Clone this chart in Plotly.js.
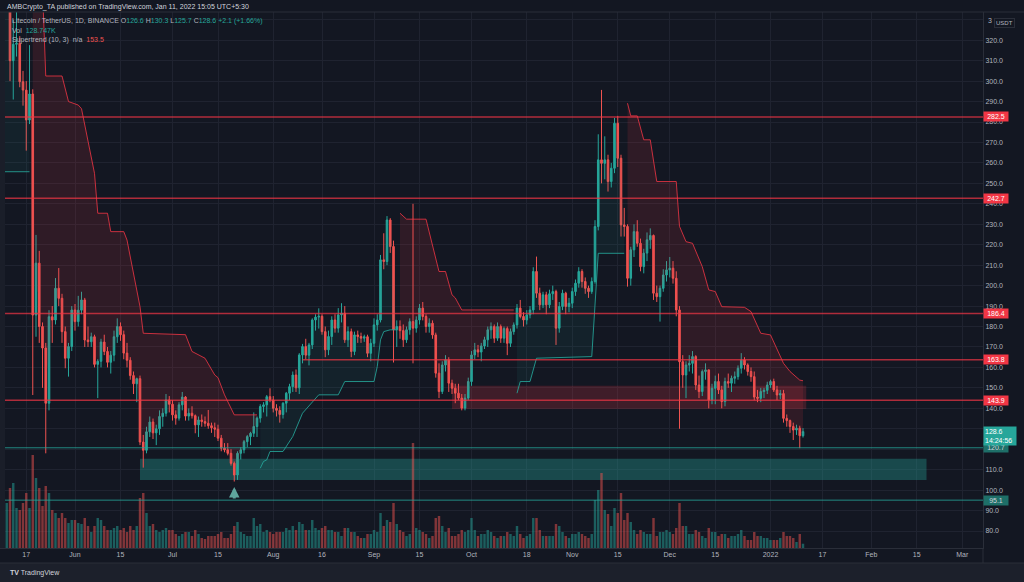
<!DOCTYPE html>
<html><head><meta charset="utf-8">
<script src="https://cdn.plot.ly/plotly-3.0.1.min.js"></script>
<style>html,body{margin:0;padding:0;background:#131722;}#chart{width:1024px;height:582px;}</style>
</head><body><div id="chart"></div>
<script>
// Daily LTC/USDT candles, first candle date:
const startDate = '2021-05-10';

const opens = [
 385,352,372,310,318,318.5,299.7,295.6,281,293.7,185.6,211,180,169.5,142.5,184.8,183.2,198.7,193.8,177.5,164.5,170.2,
 188.1,182.4,188,193,173.4,172.6,175,161.5,163,172.4,167.8,162.5,166,175,180,176,167,163.5,156,152,154.5,123.5,119.5,128.5,133.3,128,130,136,137.6,144.1,
 142,136.8,135.2,141.7,145.5,136.2,137.6,136.4,131.9,134.3,133.5,132.7,131.5,130.5,129.8,125.4,120.5,119.7,118,113.1,107.4,118,119.7,123.7,126.2,127.8,131.1,135.2,140.9,141.7,145.7,
 144.1,140,139,137,142.5,147.4,150.6,156.3,150,166.1,170.2,166,171,183.2,184.6,185,177.5,168.6,175.1,183.2,179.2,185.7,186.5,173.5,177.5,167.8,175.9,175.1,174.3,175,166.9,
 171.8,180.8,183.2,212.6,211.8,232.1,219.1,178.4,180,178,173.5,178.4,182.4,179.2,183.2,189,184.9,180,181.6,175.9,157.2,148.2,161.2,163.7,152.3,149.8,147.4,145,140.1,145,
 153.1,166.1,168.6,167.5,170.5,173.5,178.4,180,174.3,180,174.3,179,171.8,177.5,180.8,189,184.9,183.2,185.7,188.1,206.9,196.3,190.6,195.5,190.6,196,197.1,179.2,189.8,196.3,189.8,
 191.4,197.1,201.2,206.9,202,198.7,197.1,202,228.9,261.5,259.8,261.5,250.9,257.4,279.4,262.3,229.7,228.9,203.6,217.5,226.4,220.7,209.3,215.9,222.4,224.5,196.3,194.6,198.7,205.2,
 207.7,208.5,203.6,188.1,162.8,156.3,161.2,162,165.3,151.4,148.2,158,158.8,144.1,149.8,153.1,149,143.3,153.1,152.3,154.7,155.5,159.6,163.6,161.2,158,155.5,145.5,144.9,148.2,148.8,
 151.4,153.1,149,146.5,147.2,135.1,134,131.1,129.4,130.3,126.6
];
const highs = [
 412,380,378,330,338,322,305,300,317.6,296,224.8,217,182,172,188,190,203.7,208.6,196,180,172,190,
 191,195,197,194,180,177,176,164,174,176,170,168,178,184,182,178,172,165,158,155,156,127,131,136,135,132,139,140,147,146,
 144,139,143,148,146,140,141,137,136,137,136,139.2,133,133,132,127,123,123,120,114,119,121,124.5,127,128.5,138,136,142,143,146.5,149.8,
 146,142,141,143,148,152,158,159,167,171.5,174,172,184,186,188.9,186,180,178,185,186,189,191.4,190,180,179,177.5,178,177,176,176,174,
 184,186,215,225.6,234,233,222,183,183,181,180,184,240,185,191,192,186,184,183,177,162,163,166,165,154,152,152,147,147,155,
 168,172,171,172,175,180,182,181,182,181,180,180,179,182,191,193,187,188,190,209,214.2,199,197,197,198,200,198,192,198,197,194,
 199,203,209,208,204,200,204,232,274,295.7,273,264,260,282,283,264,238,230,219,230,232,223,218,226,228,225,200,200,208,212,
 214,212,207,190,166,163,166,168,166,156,159,162,159,152,156,157,151,155,157,156,158,161,167,165,162,160,158,149,150,150,153,
 154,154.5,151,149,149,137,134.5,133,132,131.5,130.3
];
const lows = [
 345,340,300,291,312,297,288,266,279,146.5,175,172,150,118,139,172,181,190,172,159.6,155.5,168,
 178,180,186,170,170,170,160,145,160,166,160,157,163,172,173,164,160,154,147,143,122,111,118,126,125,122,127,131,136,138,
 134,132,134,139,134,134,135,127.8,126,131,131,130,128,126,124,119,118.5,117,112,104.2,105,115,118,121,122,126,126,133,138,136,143,
 138,136,133,135,138,144,148,148,147,162,164,161,169,178,179,176,165,166,171,177,177,182,172,170,165,166,172,172,172.5,165,163,
 170,178,182,208,210,216,162.4,170,174,170,172,176,162,177,181,183,177,177,174,155,145,147,158,148,147,142.5,144,139,139,144,
 151,164,165,163,169,170,174,172,173,172,172,166,170,176,179,184,180,181,184,186,194,188,189,186,189,193,171,177,188,186,187,
 189,195,199,199,196,194,196,201,227,250,252,246,248,255,258,224,224,199.5,200,214,219,207,206,212,218,193,192,182.4,197,202,
 204,201,185,130,150,145,158,157,149,145,146,154,140,142,142,147,140,141,150,148,152,154,157,159,156,153,144,143,143,145,147,
 150,148,144,144.5,133,131,128,124.5,127,120.5,125.7
];
const closes = [
 352,372,310,318,318.5,299.7,295.6,281,293.7,185.6,211,180,169.5,142.5,184.8,183.2,198.7,193.8,177.5,164.5,170.2,188.1,
 182.4,188,193,173.4,172.6,175,161.5,163,172.4,167.8,162.5,166,175,180,176,167,163.5,156,152,154.5,123.5,119.5,128.5,133.3,128,130,136,137.6,144.1,142,
 136.8,135.2,141.7,145.5,136.2,137.6,136.4,131.9,134.3,133.5,132.7,131.5,130.5,129.8,125.4,120.5,119.7,118,113.1,107.4,118,119.7,123.7,126.2,127.8,131.1,135.2,140.9,141.7,145.7,144.1,
 140,139,137,142.5,147.4,150.6,156.3,150,166.1,170.2,166,171,183.2,184.6,185,177.5,168.6,175.1,183.2,179.2,185.7,186.5,173.5,177.5,167.8,175.9,175.1,174.3,175,166.9,171.8,
 180.8,183.2,212.6,211.8,232.1,219.1,178.4,180,178,173.5,178.4,182.4,179.2,183.2,189,184.9,180,181.6,175.9,157.2,148.2,161.2,163.7,152.3,149.8,147.4,145,140.1,145,153.1,
 166.1,168.6,167.5,170.5,173.5,178.4,180,174.3,180,174.3,179,171.8,177.5,180.8,189,184.9,183.2,185.7,188.1,206.9,196.3,190.6,195.5,190.6,196,197.1,179.2,189.8,196.3,189.8,191.4,
 197.1,201.2,206.9,202,198.7,197.1,202,228.9,261.5,259.8,261.5,250.9,257.4,279.4,262.3,229.7,228.9,203.6,217.5,226.4,220.7,209.3,215.9,222.4,224.5,196.3,194.6,198.7,205.2,207.7,
 208.5,203.6,188.1,162.8,156.3,161.2,162,165.3,151.4,148.2,158,158.8,144.1,149.8,153.1,149,143.3,153.1,152.3,154.7,155.5,159.6,163.6,161.2,158,155.5,145.5,144.9,148.2,148.8,151.4,
 153.1,149,146.5,147.2,135.1,134,131.1,129.4,130.3,126.6,128.6
];
// Volume in thousands of LTC
const volumes = [
 1650,1350,1800,1950,1200,1140,1350,1650,1200,2790,2100,1800,1260,1860,1650,1140,1050,900,1050,900,750,840,
 840,750,720,900,660,480,660,900,840,660,540,540,600,660,540,600,480,660,540,660,1500,1650,1050,660,720,540,480,540,600,540,
 540,420,360,420,480,480,360,540,420,300,270,360,360,360,420,480,300,300,420,660,780,480,420,360,360,900,660,720,480,540,480,
 420,480,480,480,600,540,660,540,780,720,540,540,840,600,540,600,660,540,540,480,480,360,600,600,480,480,360,300,300,420,420,
 540,480,1050,660,840,780,1350,720,540,480,360,420,3150,600,540,480,420,300,360,900,960,660,480,600,360,360,420,540,480,540,
 900,540,360,420,420,540,480,360,300,360,360,480,420,360,660,420,300,360,420,900,900,540,360,360,360,360,720,660,480,360,300,
 420,420,480,420,360,300,420,1440,1740,2250,1140,1020,660,1200,1050,1650,840,1050,780,540,420,540,480,420,420,900,360,480,480,540,
 480,420,600,1350,660,660,420,420,540,480,360,300,600,480,480,360,420,420,300,360,360,420,540,360,240,240,480,360,360,300,300,
 240,240,240,300,480,360,360,300,180,420,128.747
];

// Supertrend (10, 3) line, read as vertices per trend segment
const stUp0Dates = ['2021-05-10','2021-05-18'];
const stUp0Vals  = [255.7, 255.7];
const stDn1Dates = ['2021-05-19','2021-05-22','2021-05-23','2021-05-28','2021-05-30','2021-06-02','2021-06-03','2021-06-07','2021-06-08','2021-06-11','2021-06-12','2021-06-16','2021-06-17','2021-06-21','2021-06-22','2021-07-05','2021-07-07','2021-07-11','2021-07-14','2021-07-15','2021-07-17','2021-07-20','2021-07-27'];
const stDn1Vals  = [360, 345, 302.5, 302.5, 290, 288.3, 286.5, 254.9, 235.4, 235.4, 226.4, 226.4, 222.3, 189.7, 176.7, 176, 167.8, 164.5, 156.3, 155, 146.6, 136.8, 136.8];
const stUp1Dates = ['2021-07-28','2021-07-29','2021-07-30','2021-07-31','2021-08-04','2021-08-07','2021-08-10','2021-08-13','2021-08-15','2021-08-21','2021-08-23','2021-09-01','2021-09-02','2021-09-03','2021-09-04','2021-09-06','2021-09-08'];
const stUp1Vals  = [110.7, 114, 114.8, 118.9, 118.9, 126.2, 137.6, 143.3, 146.6, 146.6, 153.1, 153.1, 160.4, 173.5, 177.5, 178.4, 178.4];
const stDn2Dates = ['2021-09-09','2021-09-11','2021-09-17','2021-09-21','2021-09-23','2021-09-25','2021-09-26','2021-09-28','2021-10-14'];
const stDn2Vals  = [235.4, 232.5, 232.5, 206.9, 206.9, 195.5, 194, 188.1, 188.1];
const stUp2Dates = ['2021-10-15','2021-10-16','2021-10-19','2021-10-21','2021-11-07','2021-11-08','2021-11-09','2021-11-17'];
const stUp2Vals  = [147.4, 153.1, 153.1, 164.5, 165.3, 190, 215.8, 215.8];
const stDn3Dates = ['2021-11-18','2021-11-19','2021-11-21','2021-11-23','2021-11-25','2021-11-27','2021-12-03','2021-12-04','2021-12-06','2021-12-08','2021-12-11','2021-12-13','2021-12-15','2021-12-17','2021-12-24','2021-12-26','2021-12-29','2022-01-01','2022-01-05','2022-01-07','2022-01-10','2022-01-11'];
const stDn3Vals  = [289.2, 283, 283, 271.3, 271.3, 250.9, 250.9, 229, 221.5, 220.7, 209.3, 197.9, 197.1, 189.7, 189.4, 187.3, 176.7, 175.9, 162, 158, 153.8, 153.5];

// Horizontal levels and zones
const redLevels = [282.5, 242.7, 186.4, 163.8, 143.9];
const redLevelStart = ['2021-05-01','2021-05-01','2021-05-01','2021-08-10','2021-05-01'];
const tealLevels = [120.7, 95.1];
const redZone = {x0:'2021-09-25', x1:'2022-01-12', y0:139.7, y1:151};
const tealZone = {x0:'2021-06-21', x1:'2022-02-18', y0:105, y1:115.3};

const tickDates = ['2021-05-17','2021-06-01','2021-06-15','2021-07-01','2021-07-15','2021-08-01','2021-08-16','2021-09-01','2021-09-15','2021-10-01','2021-10-18','2021-11-01','2021-11-15','2021-12-01','2021-12-15','2022-01-01','2022-01-17','2022-02-01','2022-02-15','2022-03-01'];
const tickLabels = ['17','Jun','15','Jul','15','Aug','16','Sep','15','Oct','18','Nov','15','Dec','15','2022','17','Feb','15','Mar'];
// price scale ticks (labels under the price tags are hidden, as in the reference)
const priceTicks = [80,90,100,110,120,130,140,150,160,170,180,190,200,210,220,230,240,250,260,270,280,290,300,310,320,330];
const priceLabels = ['80.0','90.0','100.0','110.0','','','140.0','150.0','160.0','170.0','180.0','190.0','200.0','210.0','220.0','230.0','240.0','250.0','260.0','270.0','280.0','290.0','300.0','310.0','320.0',''];

// ---------- build ----------
function dayList(start, n){
  const out=[]; const t0=Date.parse(start+'T00:00:00Z');
  for(let i=0;i<n;i++){ out.push(new Date(t0+i*86400000).toISOString().slice(0,10)); }
  return out;
}
const dates = dayList(startDate, closes.length);
function midBetween(d0,d1){
  const x=[],y=[];
  dates.forEach((d,i)=>{ if(d>=d0 && d<=d1){ x.push(d); y.push((opens[i]+closes[i])/2); } });
  return {x,y};
}
const UP='#26a69a', DN='#ef5350';
const traces=[];
traces.push({
  type:'bar', x:dates, y:volumes, yaxis:'y2', hoverinfo:'skip',
  marker:{color:closes.map((c,i)=>c>=opens[i]?'rgba(38,166,154,0.5)':'rgba(239,83,80,0.5)'), line:{width:0}}
});
const segs=[
  [stUp0Dates,stUp0Vals,true],[stDn1Dates,stDn1Vals,false],[stUp1Dates,stUp1Vals,true],
  [stDn2Dates,stDn2Vals,false],[stUp2Dates,stUp2Vals,true],[stDn3Dates,stDn3Vals,false]
];
segs.forEach(([sd,sv,up])=>{
  const m=midBetween(sd[0], sd[sd.length-1]);
  traces.push({type:'scatter',mode:'lines',x:m.x,y:m.y,line:{width:0,color:'rgba(0,0,0,0)'},hoverinfo:'skip'});
  traces.push({type:'scatter',mode:'lines',x:sd,y:sv,fill:'tonexty',
    fillcolor: up?'rgba(38,166,154,0.08)':'rgba(242,54,69,0.13)',
    line:{width:1,color: up?'rgba(38,166,154,0.85)':'rgba(242,54,69,0.8)'},hoverinfo:'skip'});
});
traces.push({
  type:'candlestick', x:dates, open:opens, high:highs, low:lows, close:closes,
  increasing:{line:{color:UP,width:1},fillcolor:UP},
  decreasing:{line:{color:DN,width:1},fillcolor:DN},
  hoverinfo:'skip'
});

const shapes=[];
shapes.push({type:'rect',xref:'x',yref:'y',x0:tealZone.x0,x1:tealZone.x1,y0:tealZone.y0,y1:tealZone.y1,fillcolor:'rgba(38,166,154,0.35)',line:{width:0},layer:'between'});
shapes.push({type:'rect',xref:'x',yref:'y',x0:redZone.x0,x1:redZone.x1,y0:redZone.y0,y1:redZone.y1,fillcolor:'rgba(242,54,69,0.2)',line:{width:0},layer:'between'});
redLevels.forEach((v,i)=>shapes.push({type:'line',xref:'x',yref:'y',x0:redLevelStart[i],x1:'2022-04-01',y0:v,y1:v,line:{color:'rgba(242,54,69,0.7)',width:1.5},layer:'above'}));
tealLevels.forEach(v=>shapes.push({type:'line',xref:'x',yref:'y',x0:'2021-05-01',x1:'2022-04-01',y0:v,y1:v,line:{color:'rgba(38,166,154,0.8)',width:1},layer:'above'}));
// frame pieces
shapes.push({type:'rect',xref:'paper',yref:'paper',x0:0,x1:5/983,y0:0,y1:1,fillcolor:'#1a1e29',line:{width:0},layer:'above'});
shapes.push({type:'rect',xref:'paper',yref:'paper',x0:0,x1:1024/983,y0:-34/536,y1:-15/536,fillcolor:'#1c202b',line:{width:0},layer:'below'});
shapes.push({type:'line',xref:'paper',yref:'paper',x0:0,x1:1024/983,y0:-15/536,y1:-15/536,line:{color:'#2a2e39',width:1}});
shapes.push({type:'line',xref:'paper',yref:'paper',x0:1,x1:1,y0:0,y1:-15/536,line:{color:'#2a2e39',width:1}});
shapes.push({type:'line',xref:'paper',yref:'paper',x0:0,x1:1024/983,y0:1,y1:1,line:{color:'#2a2e39',width:1}});

const py = ypx => (548-ypx)/536;
const annotations=[];
const TXT='#d1d4dc';
annotations.push({xref:'paper',yref:'paper',x:5/983,y:py(7),xanchor:'left',yanchor:'middle',showarrow:false,
  text:'AMBCrypto_TA published on TradingView.com, Jan 11, 2022 15:05 UTC+5:30',font:{size:7,color:TXT}});
const tv = s=>'<span style="color:#26a69a">'+s+'</span>';
annotations.push({xref:'paper',yref:'paper',x:10/983,y:py(21),xanchor:'left',yanchor:'middle',showarrow:false,font:{size:7,color:'#b2b5be'},
  text:'Litecoin / TetherUS, 1D, BINANCE&nbsp;O'+tv('126.6')+'&nbsp;H'+tv('130.3')+'&nbsp;L'+tv('125.7')+'&nbsp;C'+tv('128.6')+'&nbsp;'+tv('+2.1 (+1.66%)')});
annotations.push({xref:'paper',yref:'paper',x:10/983,y:py(30.5),xanchor:'left',yanchor:'middle',showarrow:false,font:{size:7,color:'#b2b5be'},
  text:'Vol&nbsp;&nbsp;'+tv('128.747K')});
annotations.push({xref:'paper',yref:'paper',x:10/983,y:py(40),xanchor:'left',yanchor:'middle',showarrow:false,font:{size:7,color:'#b2b5be'},
  text:'Supertrend (10, 3)&nbsp;&nbsp;n/a&nbsp;&nbsp;<span style="color:#ef5350">153.5</span>'});
redLevels.forEach(v=>annotations.push({xref:'paper',yref:'y',x:1,y:v,xanchor:'left',yanchor:'middle',showarrow:false,
  text:v.toFixed(1),bgcolor:'#f23645',font:{size:7,color:'#ffffff'},borderpad:1,width:22}));
tealLevels.forEach(v=>annotations.push({xref:'paper',yref:'y',x:1,y:v,xanchor:'left',yanchor:'middle',showarrow:false,
  text:v.toFixed(1),bgcolor:'#1e6f68',font:{size:7,color:'#d1d4dc'},borderpad:1,width:22}));
annotations.push({xref:'paper',yref:'y',x:1,y:closes[closes.length-1],xanchor:'left',yanchor:'top',yshift:6,showarrow:false,
  text:closes[closes.length-1].toFixed(1)+'<br>14:24:56',bgcolor:'#26a69a',font:{size:7,color:'#ffffff'},borderpad:1,width:30,align:'left'});
annotations.push({xref:'paper',yref:'paper',x:1,xshift:3,y:py(21),xanchor:'left',yanchor:'middle',showarrow:false,
  text:'3',font:{size:7,color:'#b2b5be'}});
annotations.push({xref:'paper',yref:'paper',x:1,xshift:11,y:py(23),xanchor:'left',yanchor:'middle',showarrow:false,
  text:'USDT',bgcolor:'#131722',bordercolor:'#2a2e39',borderwidth:1,borderpad:1,font:{size:6,color:'#b2b5be'}});
annotations.push({xref:'x',yref:'y',x:'2021-07-20',y:101.5,ax:0,ay:13,showarrow:true,text:'',
  arrowhead:2,arrowsize:0.7,arrowwidth:3,arrowcolor:'#5ea59d'});
annotations.push({xref:'paper',yref:'paper',x:8/983,y:py(573),xanchor:'left',yanchor:'middle',showarrow:false,
  text:'<b>TV</b> TradingView',font:{size:7,color:TXT}});

const layout={
  width:1024,height:582,margin:{l:0,r:41,t:12,b:34},
  paper_bgcolor:'#131722',plot_bgcolor:'#131722',showlegend:false,
  font:{family:'Liberation Sans, Arial, sans-serif',size:7,color:'#b2b5be'},
  xaxis:{type:'date',range:['2021-05-08 22:09','2022-03-07 09:12'],rangeslider:{visible:false},
    tickmode:'array',tickvals:tickDates,ticktext:tickLabels,showgrid:true,gridcolor:'#1f2330',
    showline:true,linecolor:'#2a2e39',ticks:'',tickfont:{size:7,color:'#b2b5be'},zeroline:false,fixedrange:true},
  yaxis:{side:'right',range:[71.7,333.8],tickmode:'array',tickvals:priceTicks,ticktext:priceLabels,showgrid:true,gridcolor:'#1f2330',
    showline:true,linecolor:'#2a2e39',ticks:'',tickfont:{size:7,color:'#b2b5be'},zeroline:false,fixedrange:true},
  yaxis2:{overlaying:'y',range:[0,16080],visible:false,fixedrange:true},
  bargap:0.25,shapes,annotations
};
Plotly.newPlot('chart',traces,layout,{displayModeBar:false,staticPlot:true});
</script></body></html>
